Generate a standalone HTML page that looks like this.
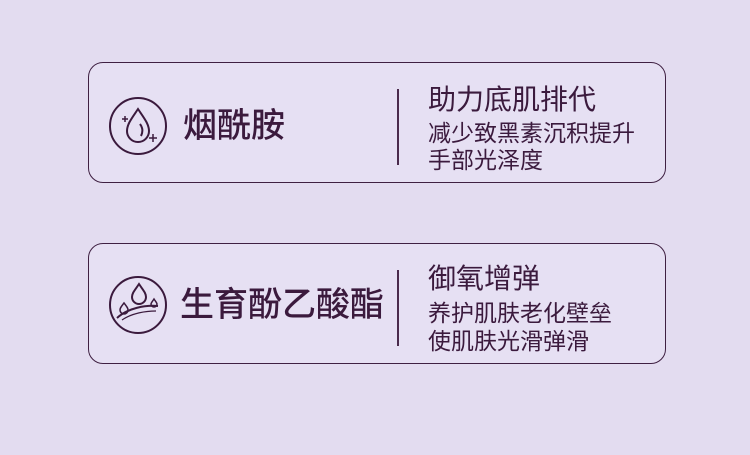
<!DOCTYPE html>
<html><head><meta charset="utf-8"><style>
body{margin:0;width:750px;height:455px;background:#e3dcf0;position:relative;overflow:hidden;font-family:"Liberation Sans","Noto Sans CJK SC",sans-serif;color:#3b1a3d}
.box{position:absolute;left:88px;width:576px;height:119px;border:1.5px solid #3f2042;border-radius:15px;background:#e6e0f3}
.t{position:absolute;white-space:nowrap;line-height:1}
.div{position:absolute;left:397px;width:1.5px;background:#4a2a4c}
</style></head><body>
<div class="box" style="top:62px"></div>
<div class="box" style="top:243px"></div>
<svg style="position:absolute;left:0;top:0" width="750" height="455" fill="none" stroke="#3b1a3d" stroke-width="2">
<circle cx="138" cy="126" r="28"/>
<path d="M138 109 C132 118 127 124 127 131 A11 11 0 0 0 149 131 C149 124 144 118 138 109Z"/>
<path d="M140 124 C143 128 143 132 141 136"/>
<path d="M125 116 l0 6 M122 119 l6 0" stroke-width="1.5"/>
<path d="M153 134 l0 8 M149 138 l8 0" stroke-width="1.5"/>
<circle cx="138" cy="305" r="28"/>
<path d="M139 284 C135 290 132 293 132 297 A7 7 0 0 0 146 297 C146 293 143 290 139 284Z"/>
<path d="M124 303 C121 307 120 308 120 310 A4 4 0 0 0 128 310 C128 308 127 307 124 303Z" stroke-width="1.5"/>
<path d="M154 299 C152 302 151 303 151 304 A3 3 0 0 0 157 304 C157 303 156 302 154 299Z" stroke-width="1.5"/>
<path d="M117 318 C128 308 145 305 158 306"/>
<path d="M122 320 C132 313 146 311 156 311" stroke-width="1.2"/>
</svg>
<div class="div" style="top:89px;height:76px"></div>
<div class="div" style="top:270px;height:76px"></div>
<div class="t" style="left:183px;top:109px;font-size:34px;font-weight:500">烟酰胺</div>
<div class="t" style="left:180px;top:288px;font-size:34px;font-weight:500">生育酚乙酸酯</div>
<div class="t" style="left:428px;top:86px;font-size:28px">助力底肌排代</div>
<div class="t" style="left:428px;top:122px;font-size:23px">减少致黑素沉积提升</div>
<div class="t" style="left:428px;top:149px;font-size:23px">手部光泽度</div>
<div class="t" style="left:428px;top:265px;font-size:28px">御氧增弹</div>
<div class="t" style="left:428px;top:302px;font-size:23px">养护肌肤老化壁垒</div>
<div class="t" style="left:428px;top:330px;font-size:23px">使肌肤光滑弹滑</div>
</body></html>
